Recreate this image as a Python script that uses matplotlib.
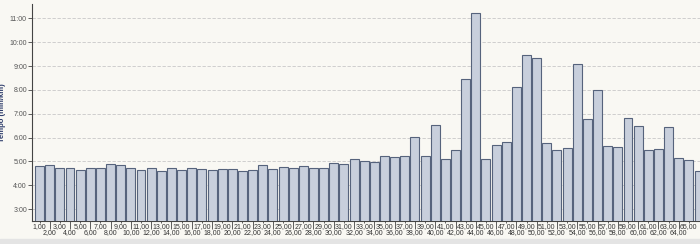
import matplotlib

matplotlib.use("Agg")
import matplotlib.pyplot as plt
from matplotlib.ticker import FuncFormatter, FixedLocator

# split number (km) and pace in decimal minutes per km
splits = list(range(1, 67))
pace = [
    4.81, 4.84, 4.71, 4.71, 4.64, 4.72, 4.72, 4.89, 4.84, 4.71,
    4.65, 4.72, 4.60, 4.72, 4.64, 4.72, 4.67, 4.65, 4.68, 4.68,
    4.60, 4.64, 4.85, 4.68, 4.77, 4.72, 4.82, 4.71, 4.71, 4.92,
    4.88, 5.09, 5.00, 4.97, 5.23, 5.17, 5.24, 6.02, 5.24, 6.52,
    5.11, 5.46, 8.46, 11.21, 5.09, 5.70, 5.80, 8.10, 9.46, 9.34,
    5.76, 5.46, 5.55, 9.10, 6.77, 7.99, 5.64, 5.60, 6.82, 6.47,
    5.46, 5.52, 6.44, 5.13, 5.05, 4.60,
]
y_ticks = [3, 4, 5, 6, 7, 8, 9, 10, 11]

BG = "#f9f8f3"
FILL = "#c8cfdc"
EDGE = "#56637c"

fig = plt.figure(figsize=(7.0, 2.44), dpi=100, facecolor=BG)
ax = fig.add_axes([0.0464, 0.094, 0.9536, 0.8896], facecolor=BG)

ax.bar(splits, pace, width=0.88, bottom=0, color=FILL, edgecolor=EDGE,
       linewidth=0.8, zorder=3)

ax.set_ylim(2.5, 11.6)
ax.set_xlim(0.3, 66.1)

ax.yaxis.set_major_locator(FixedLocator(y_ticks))
ax.yaxis.set_major_formatter(
    FuncFormatter(lambda v, _: f"{int(v)}:{int(round((v % 1) * 60)):02d}"))
ax.grid(axis="y", color="#c8c8c8", linestyle=(0, (4, 2)), linewidth=0.6,
        zorder=0)

# odd labels on the first row, even labels below with long tick lines
# (the last split is clipped at the right edge, so it gets no label)
odd = [s for s in splits[:-1] if s % 2 == 1]
even = [s for s in splits[:-1] if s % 2 == 0]
fmt = FuncFormatter(lambda v, _: f"{int(v)},00")
ax.xaxis.set_major_locator(FixedLocator(odd))
ax.xaxis.set_minor_locator(FixedLocator(even))
ax.xaxis.set_major_formatter(fmt)
ax.xaxis.set_minor_formatter(fmt)
ax.tick_params(axis="x", which="major", length=1.5, width=0.6, pad=0,
               labelsize=5, labelcolor="#333333", color="#444444")
ax.tick_params(axis="x", which="minor", length=5.5, width=0.6, pad=0,
               labelsize=5, labelcolor="#333333", color="#444444")
ax.tick_params(axis="y", length=3, width=0.6, pad=1, labelsize=5,
               labelcolor="#555555", color="#444444")
for lab in ax.get_xticklabels(which="both") + ax.get_yticklabels():
    lab.set_fontfamily("Liberation Sans")

ax.set_ylabel("Tempo (min/km)", fontsize=5.5, fontweight="bold",
              color="#2e3d6b", family="Liberation Sans", labelpad=2.5)

for side in ("top", "right"):
    ax.spines[side].set_visible(False)
ax.spines["left"].set_color("#444444")
ax.spines["bottom"].set_color("#444444")
ax.spines["left"].set_linewidth(0.8)
ax.spines["bottom"].set_linewidth(0.8)

# thin gray strip along the bottom edge
fig.patches.append(plt.Rectangle((0, 0), 1, 0.02, transform=fig.transFigure,
                                 color="#e4e4e4", zorder=0))

fig.savefig("out.png", dpi=100, facecolor=BG)
plt.close()
